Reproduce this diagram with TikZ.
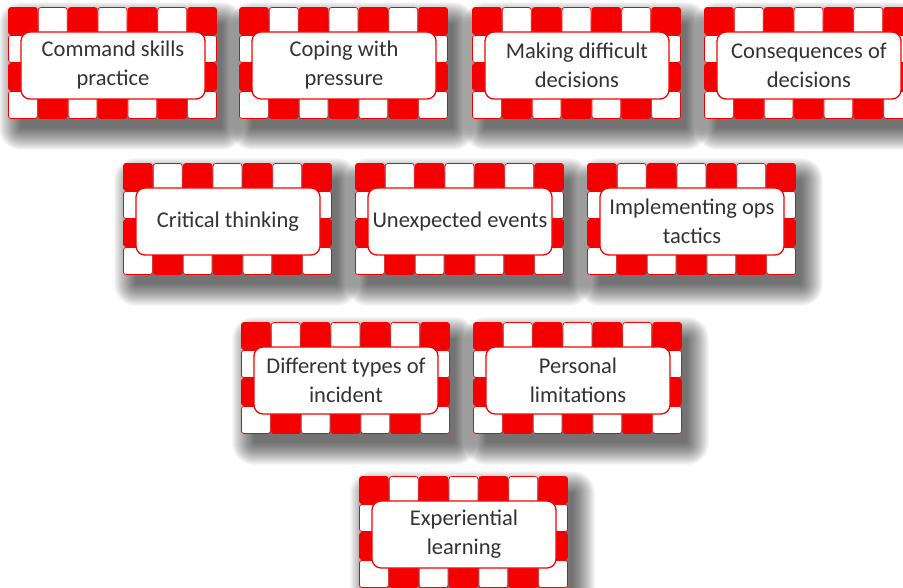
\documentclass[tikz,border=0pt]{standalone}
\usepackage{fontspec}
\setmainfont{Carlito}
\definecolor{boxred}{HTML}{F50000}
\definecolor{txtgray}{HTML}{333333}
\tikzset{
  cell/.style={draw=boxred, line width=0.7pt, rounded corners=2.5pt},
  innerbox/.style={draw=boxred, line width=1.3pt, fill=white, rounded corners=9pt,
    minimum width=184pt, minimum height=67pt, align=center, inner sep=2pt,
    font=\fontsize{22.5}{29}\selectfont, text=txtgray},
  shadowlayer/.style={fill=black, fill opacity=0.03},
}
\newcommand\cbox[4]{%
  \foreach \e in {-4,...,18}{
    \fill[shadowlayer, rounded corners={max(1,\e+4)*1pt}]
      ({#2+9-\e},{#3+13-\e}) rectangle ({#2+209+9+\e},{#3+112+13+\e});
  }
  \foreach \i in {0,...,6}{
    \foreach \j in {0,...,3}{
      \pgfmathtruncatemacro\pty{mod(\i+\j,2)}
      \ifnum\pty=0 \def\cellfill{boxred}\else\def\cellfill{white}\fi
      \draw[cell, fill=\cellfill] ({#2+\i*209/7+0.5},{#3+\j*28+0.5}) rectangle ++({209/7-1},27);
    }
  }
  \node[innerbox] (#1) at ({#2+105},{#3+58.5}) {#4};
}
\begin{document}
\begin{tikzpicture}[x=1pt,y=-1pt]
\fill[white] (0,0) rectangle (903,588);
\useasboundingbox (0,0) rectangle (903,588);
\clip (0,0) rectangle (903,588);
\cbox{b1}{8}{7}{Command skills\\practice}
\cbox{b2}{239}{7}{Coping with\\pressure}
\cbox{b3}{472}{7}{Making difficult\\decisions}
\cbox{b4}{704}{7}{Consequences of\\decisions}
\cbox{b5}{123}{163}{Critical thinking}
\cbox{b6}{355}{163}{Unexpected events}
\cbox{b7}{587}{163}{Implementing ops\\tactics}
\cbox{b8}{241}{322}{Different types of\\incident}
\cbox{b9}{473}{322}{Personal\\limitations}
\cbox{b10}{359}{476}{Experiential\\learning}
\end{tikzpicture}
\end{document}
